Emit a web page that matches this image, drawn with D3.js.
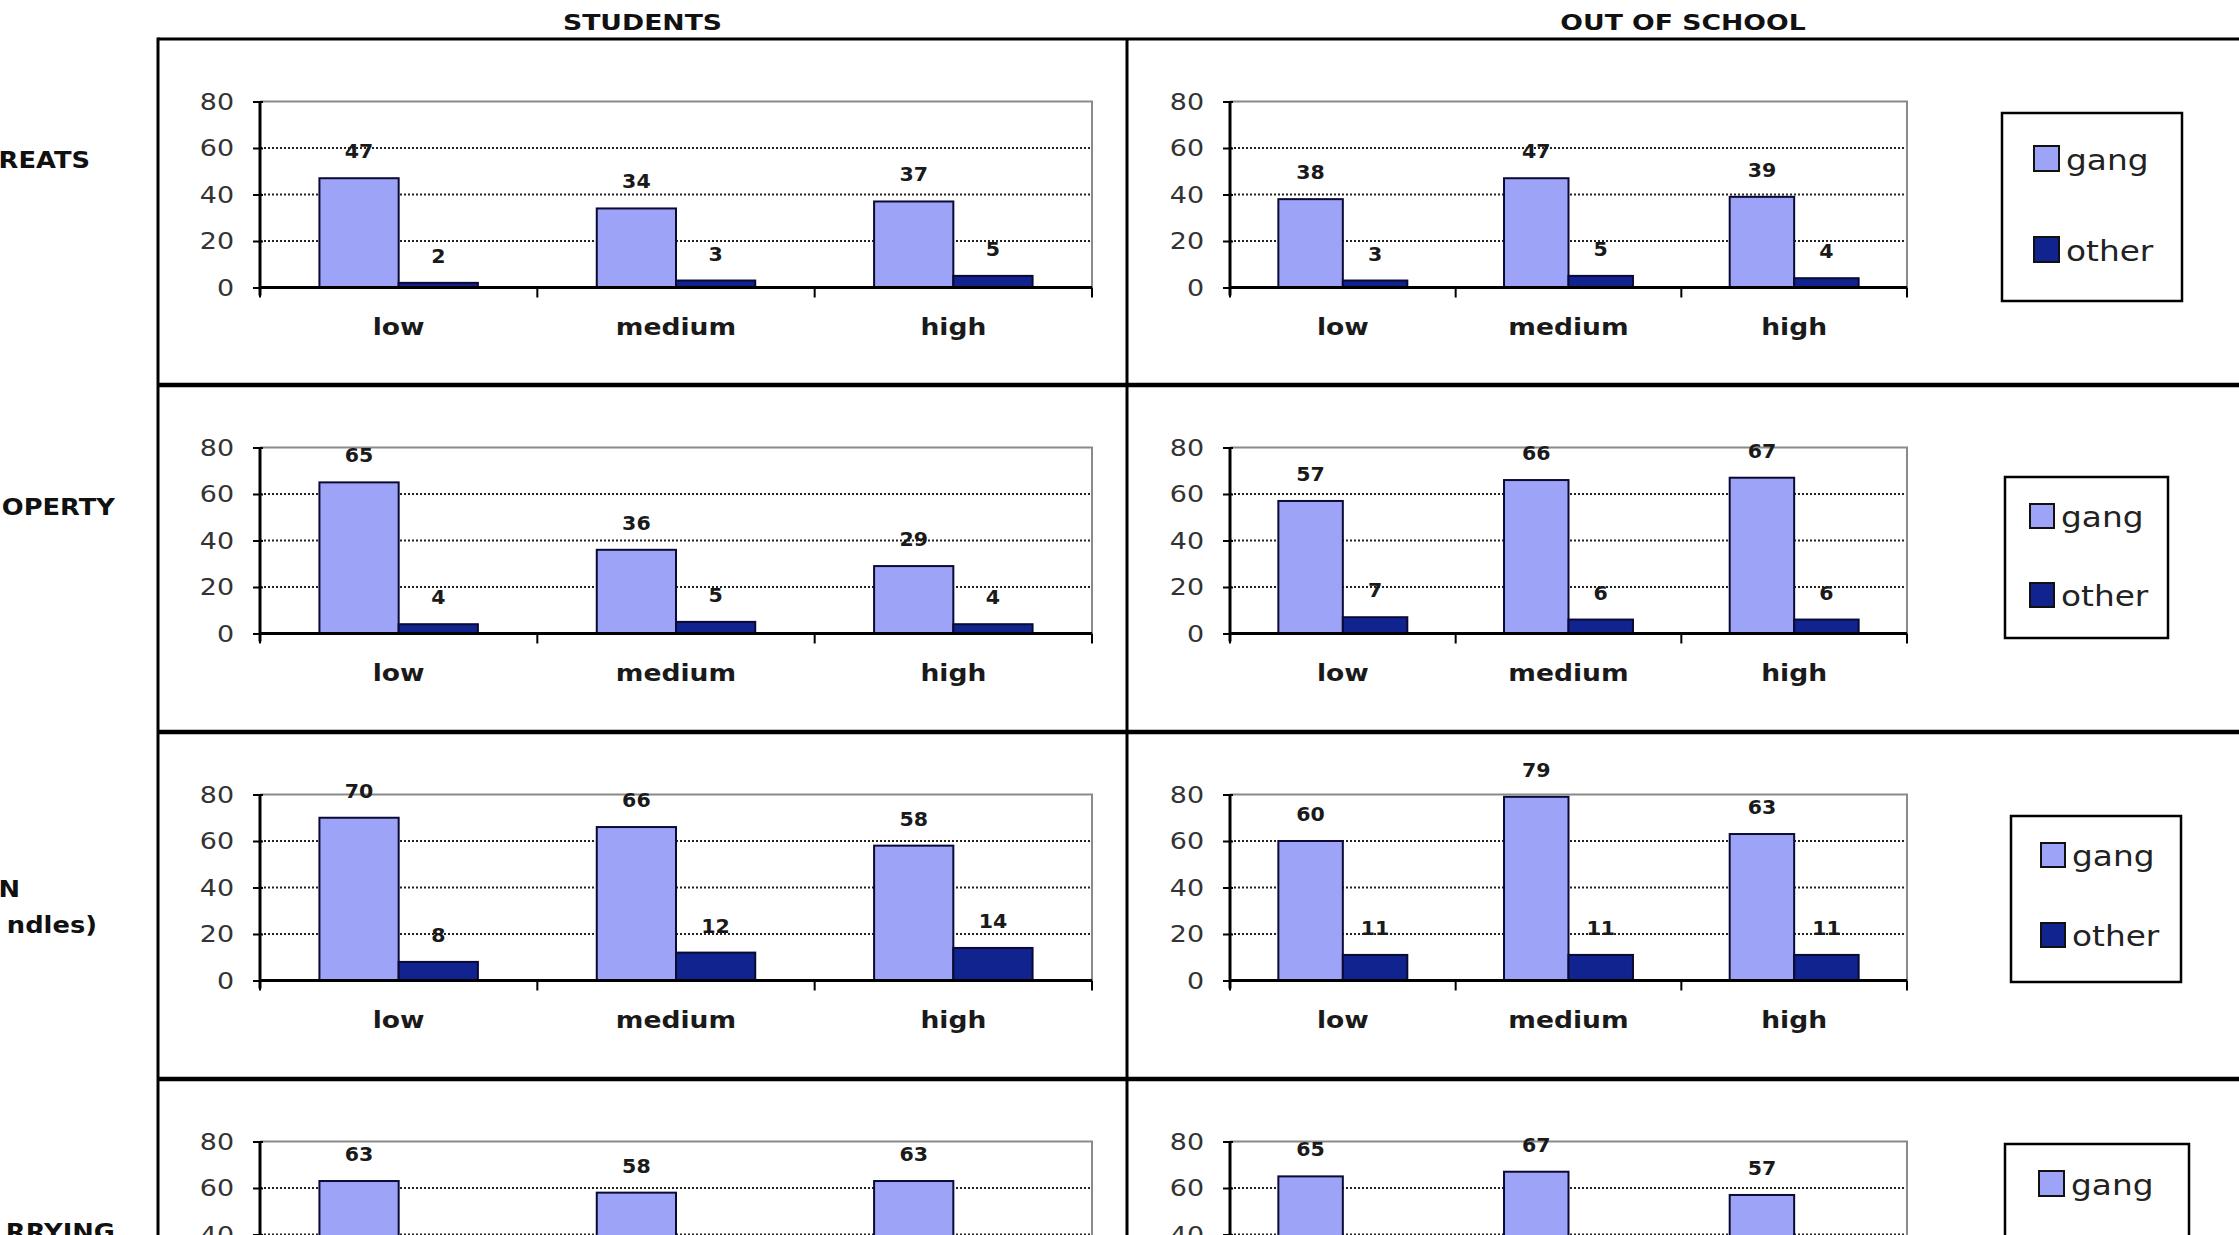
<!DOCTYPE html>
<html><head><meta charset="utf-8">
<script src="https://cdn.jsdelivr.net/npm/d3@7"></script>
<style>
html,body{margin:0;padding:0;background:#fff;overflow:hidden}
svg{display:block}
text{font-family:"DejaVu Sans",Verdana,sans-serif}
</style></head><body>
<svg id="chart" width="2239" height="1235"></svg>
<script>
// ---------- data ----------
const columnTitles = ["STUDENTS", "OUT OF SCHOOL"];
const rowLabels = [["REATS"], ["OPERTY"], ["N", "ndles)"], ["RRYING"]];
const categories = ["low", "medium", "high"];
const seriesNames = ["gang", "other"];
const yTicks = [0, 20, 40, 60, 80];
const studentsGang  = [[47, 34, 37], [65, 36, 29], [70, 66, 58], [63, 58, 63]];
const studentsOther = [[2, 3, 5], [4, 5, 4], [8, 12, 14], [null, null, null]];
const outGang       = [[38, 47, 39], [57, 66, 67], [60, 79, 63], [65, 67, 57]];
const outOther      = [[3, 5, 4], [7, 6, 6], [11, 11, 11], [null, null, null]];

// ---------- layout ----------
const W = 2239, H = 1235;
const rowTops = [39, 385, 732, 1079];
const tableLeft = 158, midX = 1127;
const colCenters = [(tableLeft + midX) / 2, (midX + W) / 2];
const panelX = [[260, 1092], [1230, 1907]];
const plotTopOff = 62.5, plotH = 186;
const legendBoxes = [
  {x: 2002, y: 113, w: 180, h: 188, sqx: 2034, sq: [146, 237], size: 25},
  {x: 2005, y: 477, w: 163, h: 161, sqx: 2030, sq: [504, 583], size: 24},
  {x: 2011, y: 816, w: 170, h: 166, sqx: 2041, sq: [843, 923], size: 24},
  {x: 2005, y: 1144, w: 184, h: 190, sqx: 2039, sq: [1171, 1262], size: 25}
];
const rowLabelPos = [
  [{x: 90, y: 168}],
  [{x: 115, y: 515}],
  [{x: 20, y: 897}, {x: 97, y: 933}],
  [{x: 115, y: 1240}]
];
const colors = {gang: "#9da4f7", other: "#10238f"};

const svg = d3.select("#chart");

function stext(g, x, y, str, size, weight, sx, anchor, fill) {
  return g.append("text")
    .attr("transform", `translate(${x},${y}) scale(${sx},1)`)
    .attr("text-anchor", anchor)
    .style("font-size", size + "px")
    .style("font-weight", weight)
    .attr("fill", fill || "#1a1a1a")
    .text(str);
}

function panel(r, c, gang, other) {
  const [x0, x1] = panelX[c];
  const yTop = rowTops[r] + plotTopOff, yBot = yTop + plotH;
  const y = d3.scaleLinear().domain([0, 80]).range([yBot, yTop]);
  const x = d3.scaleBand().domain(categories).range([x0, x1]).padding(0);
  const xs = d3.scaleBand().domain(seriesNames).range([0, x.bandwidth()]).paddingInner(0).paddingOuter(0.75);
  const g = svg.append("g");

  // dotted gridlines
  g.selectAll(".grid").data(yTicks.filter(t => t > 0 && t < 80)).join("line")
    .attr("x1", x0).attr("x2", x1)
    .attr("y1", d => y(d)).attr("y2", d => y(d))
    .attr("stroke", "#222").attr("stroke-width", 2).attr("stroke-dasharray", "2,2");
  // plot area gray border (top + right)
  g.append("path")
    .attr("d", `M${x0},${y(80)}H${x1}V${y(0)}`)
    .attr("fill", "none").attr("stroke", "#8a8a8a").attr("stroke-width", 2);

  const rows = categories.map((cat, i) => ({cat, gang: gang[i], other: other[i]}));
  const bars = [];
  rows.forEach(d => seriesNames.forEach(s => { if (d[s] != null) bars.push({cat: d.cat, s, v: d[s]}); }));

  g.selectAll(".bar").data(bars).join("rect")
    .attr("x", d => x(d.cat) + xs(d.s))
    .attr("width", xs.bandwidth())
    .attr("y", d => y(d.v))
    .attr("height", d => y(0) - y(d.v))
    .attr("fill", d => colors[d.s])
    .attr("stroke", "#0a0a35").attr("stroke-width", 2);

  // value labels
  bars.forEach(d => {
    stext(g, x(d.cat) + xs(d.s) + xs.bandwidth() / 2, y(d.v) - 20, d.v, 19, "bold", 1.08, "middle", "#1a1a1a");
  });

  // y axis
  const ya = g.append("g").attr("transform", `translate(${x0},0)`)
    .call(d3.axisLeft(y).tickValues(yTicks).tickSize(7).tickSizeOuter(0));
  ya.select(".domain").attr("stroke", "#000").attr("stroke-width", 3)
    .attr("d", `M0,${y(80)}V${y(0) + 8}`);
  ya.selectAll(".tick line").attr("x1", 3).attr("stroke", "#000").attr("stroke-width", 2);
  ya.selectAll(".tick text")
    .attr("x", null).attr("dy", null)
    .attr("transform", `translate(-26,0) scale(1.17,1)`)
    .attr("dominant-baseline", "central")
    .style("font-size", "23px").style("font-family", '"DejaVu Sans",Verdana,sans-serif')
    .attr("fill", "#333");

  // x axis
  const xa = g.append("g").attr("transform", `translate(0,${yBot})`)
    .call(d3.axisBottom(x).tickSize(0).tickPadding(0));
  xa.select(".domain").attr("stroke", "#000").attr("stroke-width", 3).attr("d", `M${x0},0H${x1}`);
  xa.selectAll(".tick text").remove();
  const bounds = categories.map(cat => x(cat)).concat([x1]);
  xa.selectAll(".bound").data(bounds).join("line")
    .attr("x1", d => d).attr("x2", d => d).attr("y1", 0).attr("y2", 10)
    .attr("stroke", "#000").attr("stroke-width", 2);
  categories.forEach(cat => {
    stext(g, x(cat) + x.bandwidth() / 2, yBot + 47, cat, 23.5, "bold", 1.13, "middle", "#1a1a1a");
  });
}

// column titles
columnTitles.forEach((t, i) => {
  stext(svg, colCenters[i], 30, t, 21, "bold", 1.27, "middle", "#111");
});

// row labels
rowLabels.forEach((lines, r) => {
  lines.forEach((ln, k) => {
    const p = rowLabelPos[r][k];
    stext(svg, p.x, p.y, ln, 23, "bold", 1.12, "end", "#111");
  });
});

// panels
for (let r = 0; r < 4; r++) {
  panel(r, 0, studentsGang[r], studentsOther[r]);
  panel(r, 1, outGang[r], outOther[r]);
}

// legends
legendBoxes.forEach(b => {
  const g = svg.append("g");
  g.append("rect").attr("x", b.x).attr("y", b.y).attr("width", b.w).attr("height", b.h)
    .attr("fill", "#fff").attr("stroke", "#000").attr("stroke-width", 2.5);
  seriesNames.forEach((s, i) => {
    g.append("rect").attr("x", b.sqx).attr("y", b.sq[i]).attr("width", b.size).attr("height", b.size)
      .attr("fill", colors[s]).attr("stroke", "#111").attr("stroke-width", 2);
    stext(g, b.sqx + b.size + 7, b.sq[i] + b.size - 1, s, 29, "normal", 1.13, "start", "#222");
  });
});

// table grid lines
const tg = svg.append("g").attr("stroke", "#000").attr("fill", "none");
tg.append("line").attr("x1", tableLeft).attr("x2", W).attr("y1", rowTops[0]).attr("y2", rowTops[0]).attr("stroke-width", 3);
tg.append("line").attr("x1", tableLeft).attr("x2", tableLeft).attr("y1", rowTops[0] - 1.5).attr("y2", H).attr("stroke-width", 3);
tg.append("line").attr("x1", midX).attr("x2", midX).attr("y1", rowTops[0]).attr("y2", H).attr("stroke-width", 3);
rowTops.slice(1).forEach(t => {
  tg.append("line").attr("x1", tableLeft).attr("x2", W).attr("y1", t).attr("y2", t).attr("stroke-width", 4.5);
});

// drop texts that lie wholly outside the visible page (the reference is cropped there)
svg.selectAll("text").each(function () {
  const r = this.getBoundingClientRect();
  if (r.top >= H || r.bottom <= 0 || r.left >= W || r.right <= 0) this.remove();
});
</script>
</body></html>
